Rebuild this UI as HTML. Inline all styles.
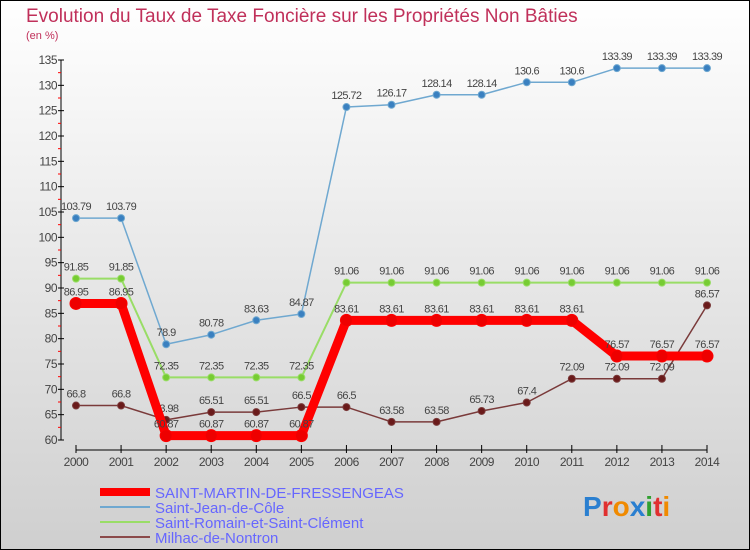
<!DOCTYPE html>
<html><head><meta charset="utf-8"><style>
body{margin:0}
svg{display:block;font-family:"Liberation Sans",sans-serif}
</style></head><body>
<svg id="c" width="750" height="550">
<defs><linearGradient id="bg" x1="0" y1="0" x2="0" y2="1"><stop offset="0" stop-color="#ffffff"/><stop offset="1" stop-color="#cfcfcf"/></linearGradient></defs>
<rect x="0.5" y="0.5" width="749" height="549" fill="url(#bg)" stroke="#000"/>
<text x="26" y="22" font-size="19" fill="#c0305a">Evolution du Taux de Taxe Foncière sur les Propriétés Non Bâties</text>
<text x="26" y="39" font-size="11" fill="#c0305a">(en %)</text>
<g id="axes"></g><g id="series"></g>
<g>
<line x1="100" y1="492" x2="150" y2="492" stroke="#ff0000" stroke-width="8"/>
<text x="155" y="498" font-size="15" fill="#6666ff">SAINT-MARTIN-DE-FRESSENGEAS</text>
<line x1="100" y1="507" x2="150" y2="507" stroke="#6fa8d0" stroke-width="2"/>
<text x="155" y="513" font-size="15" fill="#6666ff">Saint-Jean-de-Côle</text>
<line x1="100" y1="522" x2="150" y2="522" stroke="#99dd66" stroke-width="2"/>
<text x="155" y="528" font-size="15" fill="#6666ff">Saint-Romain-et-Saint-Clément</text>
<line x1="100" y1="537" x2="150" y2="537" stroke="#8b4a4a" stroke-width="2"/>
<text x="155" y="543" font-size="15" fill="#6666ff">Milhac-de-Nontron</text>
</g>
<text x="583" y="516" font-size="28" font-weight="bold"><tspan fill="#2a7fd0">P</tspan><tspan fill="#e03030">r</tspan><tspan fill="#f08a00">o</tspan><tspan fill="#2a7fd0">x</tspan><tspan fill="#30a030">i</tspan><tspan fill="#e03030">t</tspan><tspan fill="#f08a00">i</tspan></text>
</svg>
<script>
const years=[2000,2001,2002,2003,2004,2005,2006,2007,2008,2009,2010,2011,2012,2013,2014];
const yTicks=[60,65,70,75,80,85,90,95,100,105,110,115,120,125,130,135];
const stMartin=[86.95,86.95,60.87,60.87,60.87,60.87,83.61,83.61,83.61,83.61,83.61,83.61,76.57,76.57,76.57];
const stJean=[103.79,103.79,78.9,80.78,83.63,84.87,125.72,126.17,128.14,128.14,130.6,130.6,133.39,133.39,133.39];
const stRomain=[91.85,91.85,72.35,72.35,72.35,72.35,91.06,91.06,91.06,91.06,91.06,91.06,91.06,91.06,91.06];
const milhac=[66.8,66.8,63.98,65.51,65.51,66.5,66.5,63.58,63.58,65.73,67.4,72.09,72.09,72.09,86.57];
const NS="http://www.w3.org/2000/svg";
const xS=i=>76+i*(707-76)/14;
const yS=v=>440-(v-60)*(380/75);
function mk(t,a,p){const e=document.createElementNS(NS,t);for(const k in a)e.setAttribute(k,a[k]);p.appendChild(e);return e;}
const ax=document.getElementById('axes');
let e=mk('line',{x1:61,y1:yS(135),x2:61,y2:yS(60),stroke:'#000'},ax);


e=mk('line',{x1:76,y1:450,x2:707,y2:450,stroke:'#000'},ax);


yTicks.forEach(v=>{
 mk('line',{x1:58,y1:yS(v),x2:64,y2:yS(v),stroke:'#000'},ax);
 if(v<135)mk('line',{x1:58,y1:yS(v+2.5),x2:61,y2:yS(v+2.5),stroke:'#f00'},ax);
 const t=mk('text',{x:57,y:yS(v)+4,'font-size':12,'text-anchor':'end',fill:'#444','letter-spacing':'-0.5'},ax);
 t.textContent=v;
 
 
});
years.forEach((y,i)=>{
 mk('line',{x1:xS(i),y1:445,x2:xS(i),y2:453,stroke:'#000'},ax);
 const t=mk('text',{x:xS(i),y:466,'font-size':12,'text-anchor':'middle',fill:'#444','letter-spacing':'-0.5'},ax);
 t.textContent=y;
 
 
});
const sg=document.getElementById('series');
function draw(vals,color,w,r,name,dot){
 const g=mk('g',{},sg);
 
 
 const l=mk('polyline',{points:vals.map((v,i)=>xS(i)+','+yS(v)).join(' '),fill:'none',stroke:color,'stroke-width':w,'stroke-linejoin':'round'},g);
 
 
 vals.forEach((v,i)=>{
  const c=mk('circle',{cx:xS(i),cy:yS(v),r:r,fill:dot,stroke:color,'stroke-width':1},g);
  
  
  const t=mk('text',{x:xS(i),y:yS(v)-8,'font-size':11,'text-anchor':'middle',fill:'#444','letter-spacing':'-0.6'},g);
  t.textContent=String(v);
  
  
 });
}
draw(stJean,'#6fa8d0',1.5,3.5,'saint-jean-series','#3a80c0');
draw(stRomain,'#99dd66',2,3.5,'saint-romain-series','#77cc33');
draw(milhac,'#7a3a3a',1.5,3.5,'milhac-series','#6a1a1a');
draw(stMartin,'#ff0000',9,6,'saint-martin-series','#ee0000');
</script>
</body></html>
